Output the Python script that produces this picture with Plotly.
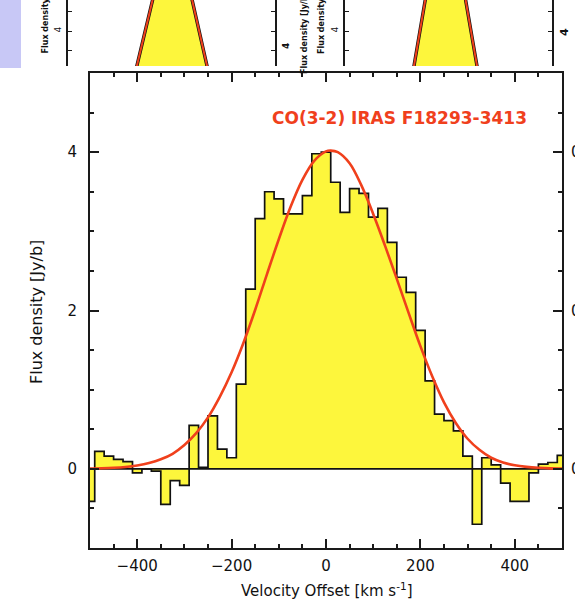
import plotly.graph_objects as go

# ---------------- main panel data ----------------
velocity = [-500, -480, -460, -440, -420, -400, -380, -360, -340, -320,
            -300, -280, -260, -240, -220, -200, -180, -160, -140, -120,
            -100, -80, -60, -40, -20, 0, 20, 40, 60, 80,
            100, 120, 140, 160, 180, 200, 220, 240, 260, 280,
            300, 320, 340, 360, 380, 400, 420, 440, 460, 480, 500]
flux = [-0.41, 0.22, 0.16, 0.12, 0.09, -0.05, 0.00, -0.03, -0.45, -0.15,
        -0.21, 0.55, 0.02, 0.67, 0.25, 0.14, 1.07, 2.27, 3.16, 3.50,
        3.41, 3.22, 3.22, 3.45, 3.98, 4.00, 3.62, 3.24, 3.54, 3.48,
        3.18, 3.29, 2.86, 2.42, 2.23, 1.75, 1.11, 0.69, 0.61, 0.48,
        0.16, -0.70, 0.14, 0.05, -0.18, -0.41, -0.41, -0.05, 0.06, 0.08, 0.17]

fit_velocity = [-500, -475, -450, -425, -400, -375, -350, -325, -300, -275,
                -250, -225, -200, -175, -150, -125, -100, -75, -50, -25,
                0, 10, 25, 50, 75, 100, 125, 150, 175, 200,
                225, 250, 275, 300, 325, 350, 375, 400, 425, 450, 475, 500]
fit_flux = [0.004, 0.007, 0.013, 0.024, 0.043, 0.073, 0.12, 0.19, 0.30, 0.45,
            0.65, 0.91, 1.22, 1.59, 2.01, 2.46, 2.90, 3.31, 3.65, 3.89,
            4.01, 4.02, 4.00, 3.86, 3.58, 3.22, 2.82, 2.40, 1.97, 1.55,
            1.17, 0.84, 0.58, 0.38, 0.24, 0.14, 0.08, 0.045, 0.025, 0.013, 0.006, 0.003]

x_ticks = [-400, -200, 0, 200, 400]
y_ticks = [0, 2, 4]
line_label = "CO(3-2) IRAS F18293-3413"

# ---------------- upper (cropped) panels ----------------
upperA_vel = [-172, -60, 70, 176]
upperA_flux = [3.0, 5.5, 5.5, 3.0]
upperB_vel = [-170, -90, 60, 141]
upperB_flux = [3.0, 5.5, 5.5, 3.0]
upper_ticks = [4]

YELLOW = "#fdf63c"
RED = "#f0401c"
FONT = "DejaVu Sans"

W, H = 575, 603
B = 55
PH = H - B  # paper height in px


def px_x(px):
    return px / W


def px_y(py):
    return (PH - py) / PH


fig = go.Figure()

# main histogram
fig.add_trace(go.Scatter(x=velocity, y=flux, mode="lines",
                         line=dict(shape="hvh", color="#111111", width=1.7),
                         fill="tozeroy", fillcolor=YELLOW,
                         xaxis="x", yaxis="y", hoverinfo="skip"))
# zero line
fig.add_trace(go.Scatter(x=[velocity[0], velocity[-1]], y=[0, 0], mode="lines",
                         line=dict(color="#111111", width=1.6),
                         xaxis="x", yaxis="y", hoverinfo="skip"))
# fit
fig.add_trace(go.Scatter(x=fit_velocity, y=fit_flux, mode="lines",
                         line=dict(shape="spline", color=RED, width=2.6),
                         xaxis="x", yaxis="y", hoverinfo="skip"))

# upper panels
for vel, fl, xa, ya in [(upperA_vel, upperA_flux, "x2", "y2"),
                        (upperB_vel, upperB_flux, "x3", "y3")]:
    fig.add_trace(go.Scatter(x=vel, y=fl, mode="lines",
                             line=dict(color="#111111", width=3.4),
                             fill="tozeroy", fillcolor=YELLOW,
                             xaxis=xa, yaxis=ya, hoverinfo="skip"))
    fig.add_trace(go.Scatter(x=vel, y=fl, mode="lines",
                             line=dict(color=RED, width=2),
                             xaxis=xa, yaxis=ya, hoverinfo="skip"))

axis_common = dict(showline=True, linecolor="#1a1a1a", linewidth=2,
                   mirror="allticks", ticks="inside", tickcolor="#1a1a1a",
                   tickwidth=1.6, showgrid=False, zeroline=False,
                   tickfont=dict(family=FONT, size=15, color="#111111"))

upper_axis = dict(range=[3.1, 4.8], showline=True, linecolor="#1a1a1a",
                  linewidth=1.6, mirror="allticks", ticks="inside", ticklen=4,
                  tickcolor="#1a1a1a", tickwidth=1.3, tickvals=upper_ticks,
                  tickangle=-90, tickfont=dict(family=FONT, size=9, color="#111111"),
                  minor=dict(dtick=0.5, tick0=0, ticks="inside", ticklen=4,
                             tickcolor="#1a1a1a", tickwidth=1.3),
                  showgrid=False, zeroline=False, ticklabelstandoff=2)

fig.update_layout(
    width=W, height=H,
    margin=dict(l=0, r=0, t=0, b=B, pad=0),
    paper_bgcolor="white", plot_bgcolor="white",
    showlegend=False,
    xaxis=dict(domain=[px_x(90), px_x(562)], range=[-500, 500],
               tickvals=x_ticks, ticklen=9, ticklabelstandoff=3,
               minor=dict(dtick=50, tick0=0, ticklen=4, ticks="inside",
                          tickwidth=1.5, tickcolor="#1a1a1a"),
               anchor="y", **axis_common),
    yaxis=dict(domain=[0, px_y(73)], range=[-1, 5],
               tickvals=y_ticks, ticklen=9, ticklabelstandoff=8,
               minor=dict(dtick=0.5, tick0=0, ticklen=4, ticks="inside",
                          tickwidth=1.5, tickcolor="#1a1a1a"),
               anchor="x", **axis_common),
    xaxis2=dict(domain=[px_x(68), px_x(275)], range=[-500, 500], visible=False,
                anchor="y2", fixedrange=True),
    yaxis2=dict(domain=[px_y(66), 1], anchor="x2", **upper_axis),
    xaxis3=dict(domain=[px_x(345), px_x(552)], range=[-500, 500], visible=False,
                anchor="y3", fixedrange=True),
    yaxis3=dict(domain=[px_y(66), 1], anchor="x3", **upper_axis),
)

fig.add_shape(type="rect", xref="paper", yref="paper",
              x0=0, x1=px_x(21), y0=px_y(68), y1=1,
              fillcolor="#c8c8f6", line=dict(width=0), layer="below")

C = dict(xanchor="center", yanchor="middle", showarrow=False)
ann = []
# axis titles
ann.append(dict(text="Velocity Offset [km s<sup>-1</sup>]", xref="paper", yref="paper",
                x=px_x(327), y=px_y(590),
                font=dict(family=FONT, size=15, color="#111111"), **C))
ann.append(dict(text="Flux density [Jy/b]", xref="paper", yref="paper",
                x=px_x(36), y=px_y(312), textangle=-90,
                font=dict(family=FONT, size=16, color="#111111"), **C))
# line label
ann.append(dict(text=line_label, xref="paper", yref="paper",
                x=px_x(399), y=px_y(118),
                font=dict(family=FONT, size=17, color=RED, weight="bold"), **C))
# cut-off tick labels of the neighbouring panel
for yv in y_ticks:
    ann.append(dict(text="0", xref="paper", yref="y", x=px_x(569), y=yv,
                    xanchor="left", yanchor="middle", showarrow=False,
                    font=dict(family=FONT, size=15, color="#111111")))
# fragments of upper panel labels
for cx, txt in [(44.5, "Flux density"), (321, "Flux density")]:
    ann.append(dict(text=txt, xref="paper", yref="paper", x=px_x(cx), y=px_y(26),
                    textangle=-90,
                    font=dict(family=FONT, size=8, color="#111111", weight="bold"), **C))
ann.append(dict(text="Flux density [Jy/b]", xref="paper", yref="paper", x=px_x(304),
                y=px_y(33), textangle=-90,
                font=dict(family=FONT, size=8, color="#111111", weight="bold"), **C))
ann.append(dict(text="4", xref="paper", yref="paper", x=px_x(286), y=px_y(46),
                textangle=-90,
                font=dict(family=FONT, size=9, color="#111111", weight="bold"), **C))
ann.append(dict(text="4", xref="paper", yref="paper", x=px_x(564), y=px_y(32),
                textangle=-90,
                font=dict(family=FONT, size=11, color="#111111", weight="bold"), **C))
fig.update_layout(annotations=ann)

fig.write_html("out.html")
